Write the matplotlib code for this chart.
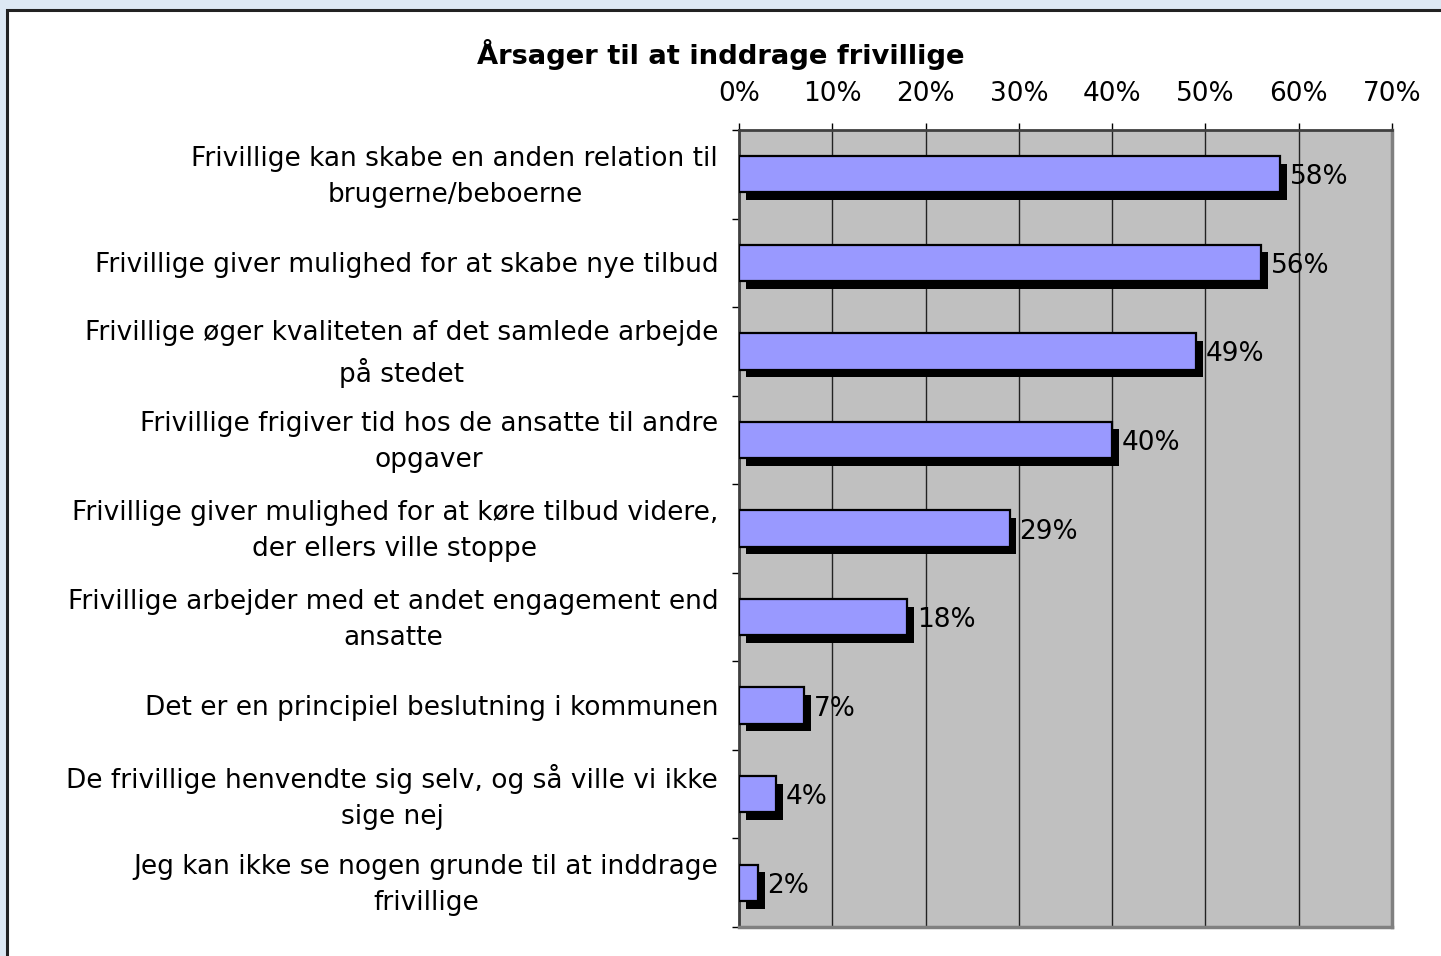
import matplotlib.pyplot as plt
import matplotlib.patheffects as pe
from matplotlib.patches import Rectangle
from matplotlib.transforms import ScaledTranslation
import numpy as np

plt.switch_backend('Agg')

# Data
categories = [
    "Frivillige kan skabe en anden relation til\nbrugerne/beboerne",
    "Frivillige giver mulighed for at skabe nye tilbud",
    "Frivillige øger kvaliteten af det samlede arbejde\npå stedet",
    "Frivillige frigiver tid hos de ansatte til andre\nopgaver",
    "Frivillige giver mulighed for at køre tilbud videre,\nder ellers ville stoppe",
    "Frivillige arbejder med et andet engagement end\nansatte",
    "Det er en principiel beslutning i kommunen",
    "De frivillige henvendte sig selv, og så ville vi ikke\nsige nej",
    "Jeg kan ikke se nogen grunde til at inddrage\nfrivillige",
]
values = [58, 56, 49, 40, 29, 18, 7, 4, 2]
xticks = [0, 10, 20, 30, 40, 50, 60, 70]
title = "Årsager til at inddrage frivillige"

W, H = 1441, 956
FS = 19
fig = plt.figure(figsize=(W / 100, H / 100), dpi=100)
fig.patch.set_facecolor('#dde8f3')

# White chart area with dark border
fig.patches.append(Rectangle((7 / W, -0.01), 1.0, 1 - 10 / H + 0.01,
                             transform=fig.transFigure, facecolor='white',
                             edgecolor='#222222', linewidth=2.2, zorder=-5))

ax = fig.add_axes([739 / W, 1 - 927 / H, (1392 - 739) / W, (927 - 130) / H])
ax.set_facecolor('#c0c0c0')

y = np.arange(len(categories))
shadow = [pe.SimplePatchShadow(offset=(5, -5.5), shadow_rgbFace='black', alpha=1.0), pe.Normal()]
bars = ax.barh(y, values, height=0.41, color='#9999ff', edgecolor='black',
               linewidth=1.6, zorder=3)
for b in bars:
    b.set_path_effects(shadow)

# value labels right of the bars
for yi, v in zip(y, values):
    ax.text(v + 1.05, yi + 0.035, f"{v}%", va='center', ha='left', fontsize=FS, zorder=4)

ax.set_xlim(0, 70)
ax.set_ylim(len(categories) - 0.5, -0.5)
ax.xaxis.tick_top()
ax.set_xticks(xticks)
ax.set_xticklabels([f"{t}%" for t in xticks], fontsize=FS)
ax.tick_params(axis='x', length=5, width=1, pad=11.5, color='black')

ax.set_yticks(y)
ax.set_yticklabels(categories, fontsize=FS, multialignment='center',
                   linespacing=1.5, va='center')
ax.tick_params(axis='y', which='major', length=0, pad=15)
ax.set_yticks(np.arange(-0.5, len(categories), 1), minor=True)
ax.tick_params(axis='y', which='minor', length=5, width=1, color='black')

# nudge category labels down a few pixels
shift = ScaledTranslation(0, -2.5 / 100, fig.dpi_scale_trans)
for lab in ax.get_yticklabels():
    lab.set_transform(lab.get_transform() + shift)

ax.grid(axis='x', color='#222222', linewidth=1, zorder=1)
ax.set_axisbelow(True)

ax.spines['left'].set_color('#404040')
ax.spines['left'].set_linewidth(2)
ax.spines['top'].set_color('#404040')
ax.spines['top'].set_linewidth(2)
ax.spines['right'].set_color('#808080')
ax.spines['right'].set_linewidth(2.5)
ax.spines['bottom'].set_color('#808080')
ax.spines['bottom'].set_linewidth(2.5)

fig.text(721 / W, 1 - 55 / H, title, ha='center', va='center',
         fontsize=19.7, fontweight='bold')

fig.savefig('out.png', dpi=100, facecolor=fig.get_facecolor())
